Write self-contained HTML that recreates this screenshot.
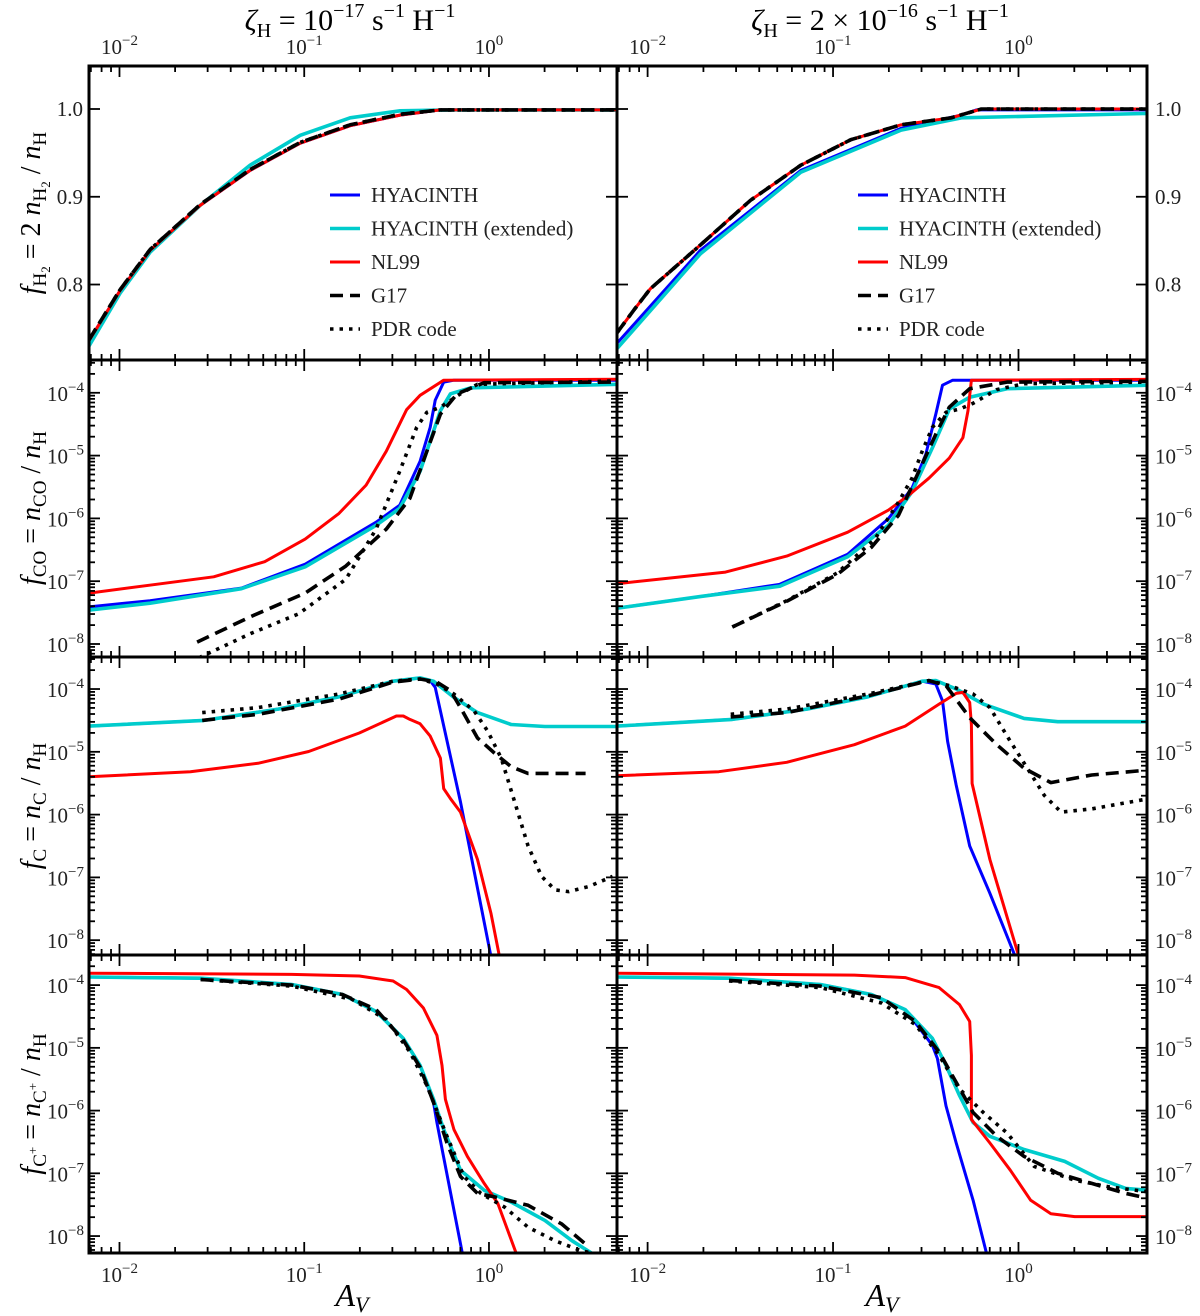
<!DOCTYPE html>
<html><head><meta charset="utf-8">
<style>
html,body{margin:0;padding:0;background:#fff;}
svg{display:block;font-family:"Liberation Serif","DejaVu Serif",serif;}
</style></head>
<body>
<svg id="fig" width="1200" height="1316" viewBox="0 0 1200 1316" xmlns="http://www.w3.org/2000/svg">
<text x="350" y="30" font-size="30" text-anchor="middle"><tspan font-style="italic">ζ</tspan><tspan font-size="20" dy="7">H</tspan><tspan dy="-7"> = 10</tspan><tspan font-size="20" dy="-13">−17</tspan><tspan dy="13"> s</tspan><tspan font-size="20" dy="-13">−1</tspan><tspan dy="13"> H</tspan><tspan font-size="20" dy="-13">−1</tspan></text>
<text x="880" y="30" font-size="30" text-anchor="middle"><tspan font-style="italic">ζ</tspan><tspan font-size="20" dy="7">H</tspan><tspan dy="-7"> = 2 × 10</tspan><tspan font-size="20" dy="-13">−16</tspan><tspan dy="13"> s</tspan><tspan font-size="20" dy="-13">−1</tspan><tspan dy="13"> H</tspan><tspan font-size="20" dy="-13">−1</tspan></text>
<text x="352" y="1306" font-size="32" font-style="italic" text-anchor="middle">A<tspan font-size="22" dy="6">V</tspan></text>
<text x="882" y="1306" font-size="32" font-style="italic" text-anchor="middle">A<tspan font-size="22" dy="6">V</tspan></text>
<text transform="translate(40,213) rotate(-90)" font-size="28" text-anchor="middle"><tspan font-style="italic">f</tspan><tspan font-size="19" dy="6">H</tspan><tspan font-size="13" dy="4">2</tspan><tspan dy="-10"> = 2 </tspan><tspan font-style="italic">n</tspan><tspan font-size="19" dy="6">H</tspan><tspan font-size="13" dy="4">2</tspan><tspan dy="-10"> / </tspan><tspan font-style="italic">n</tspan><tspan font-size="19" dy="6">H</tspan></text>
<text transform="translate(40,508) rotate(-90)" font-size="28" text-anchor="middle"><tspan font-style="italic">f</tspan><tspan font-size="19" dy="6">CO</tspan><tspan dy="-6"> = </tspan><tspan font-style="italic">n</tspan><tspan font-size="19" dy="6">CO</tspan><tspan dy="-6"> / </tspan><tspan font-style="italic">n</tspan><tspan font-size="19" dy="6">H</tspan></text>
<text transform="translate(40,806) rotate(-90)" font-size="28" text-anchor="middle"><tspan font-style="italic">f</tspan><tspan font-size="19" dy="6">C</tspan><tspan dy="-6"> = </tspan><tspan font-style="italic">n</tspan><tspan font-size="19" dy="6">C</tspan><tspan dy="-6"> / </tspan><tspan font-style="italic">n</tspan><tspan font-size="19" dy="6">H</tspan></text>
<text transform="translate(40,1104) rotate(-90)" font-size="28" text-anchor="middle"><tspan font-style="italic">f</tspan><tspan font-size="19" dy="6">C</tspan><tspan font-size="13" dy="-9">+</tspan><tspan dy="3"> = </tspan><tspan font-style="italic">n</tspan><tspan font-size="19" dy="6">C</tspan><tspan font-size="13" dy="-9">+</tspan><tspan dy="3"> / </tspan><tspan font-style="italic">n</tspan><tspan font-size="19" dy="6">H</tspan></text>
</svg>
<script>
// ---------- data (log10 A_V, and log10 f except row 1 which is linear f) ----------
const r1L_hy_x=[-2.165,-1.997,-1.834,-1.564,-1.293,-1.022,-0.751,-0.481,-0.264,0.70];
const r1L_hy_y=[0.736,0.793,0.839,0.890,0.930,0.961,0.981,0.993,0.999,0.999];
const r1L_ext_x=[-2.165,-1.997,-1.834,-1.564,-1.293,-1.022,-0.751,-0.481,-0.21,0.70];
const r1L_ext_y=[0.730,0.790,0.837,0.890,0.936,0.970,0.990,0.998,0.999,0.999];
const r1L_nl_x=[-2.165,-1.997,-1.834,-1.564,-1.293,-1.022,-0.751,-0.481,-0.264,0.70];
const r1L_nl_y=[0.736,0.793,0.839,0.890,0.930,0.961,0.981,0.993,0.999,0.999];
const r1L_g17_x=[-2.165,-1.997,-1.834,-1.564,-1.293,-1.022,-0.751,-0.481,-0.264,0.70];
const r1L_g17_y=[0.737,0.794,0.840,0.891,0.931,0.962,0.982,0.994,0.999,0.999];
const r1L_pdr_x=[-2.165,-1.997,-1.834,-1.564,-1.293,-1.022,-0.751,-0.481,-0.264,0.70];
const r1L_pdr_y=[0.737,0.794,0.840,0.891,0.931,0.962,0.982,0.994,0.999,0.999];

const r1R_hy_x=[-2.165,-1.715,-1.174,-0.633,-0.308,-0.227,0.70];
const r1R_hy_y=[0.733,0.839,0.930,0.978,0.993,0.999,0.999];
const r1R_ext_x=[-2.165,-1.715,-1.174,-0.633,-0.308,0.70];
const r1R_ext_y=[0.727,0.835,0.928,0.976,0.99,0.995];
const r1R_nl_x=[-2.165,-2.07,-1.986,-1.715,-1.445,-1.174,-0.904,-0.633,-0.363,-0.20,0.70];
const r1R_nl_y=[0.745,0.772,0.795,0.845,0.896,0.936,0.965,0.982,0.990,1.0,1.0];
const r1R_g17_x=[-2.165,-2.07,-1.986,-1.715,-1.445,-1.174,-0.904,-0.633,-0.363,-0.20,0.70];
const r1R_g17_y=[0.745,0.772,0.795,0.845,0.896,0.936,0.965,0.982,0.990,1.0,1.0];
const r1R_pdr_x=[-2.165,-2.07,-1.986,-1.715,-1.445,-1.174,-0.904,-0.633,-0.363,-0.20,0.70];
const r1R_pdr_y=[0.745,0.772,0.795,0.845,0.896,0.936,0.965,0.982,0.990,1.0,1.0];

const r2L_hy_x=[-2.165,-1.835,-1.34,-0.995,-0.611,-0.483,-0.373,-0.318,-0.291,-0.245,-0.19,0.702];
const r2L_hy_y=[-7.41,-7.31,-7.11,-6.73,-6.06,-5.79,-5.09,-4.55,-4.12,-3.83,-3.80,-3.80];
const r2L_ext_x=[-2.165,-1.835,-1.34,-0.995,-0.611,-0.483,-0.373,-0.318,-0.263,-0.208,-0.099,0.702];
const r2L_ext_y=[-7.46,-7.35,-7.12,-6.77,-6.11,-5.84,-5.25,-4.77,-4.285,-4.016,-3.92,-3.865];
const r2L_nl_x=[-2.165,-1.80,-1.49,-1.214,-0.995,-0.812,-0.665,-0.556,-0.446,-0.373,-0.245,0.702];
const r2L_nl_y=[-7.19,-7.05,-6.93,-6.69,-6.33,-5.92,-5.47,-4.93,-4.27,-4.04,-3.80,-3.785];
const r2L_g17_x=[-1.58,-1.287,-0.995,-0.775,-0.556,-0.428,-0.336,-0.263,-0.172,-0.026,0.702];
const r2L_g17_y=[-7.97,-7.56,-7.19,-6.76,-6.17,-5.68,-4.93,-4.34,-4.016,-3.84,-3.83];
const r2L_pdr_x=[-1.57,-1.287,-1.031,-0.775,-0.611,-0.483,-0.391,-0.336,-0.263,-0.154,-0.062,0.702];
const r2L_pdr_y=[-8.22,-7.83,-7.52,-6.97,-6.17,-5.25,-4.55,-4.31,-4.23,-4.016,-3.865,-3.81];

const r2R_hy_x=[-2.165,-1.707,-1.287,-0.921,-0.702,-0.574,-0.50,-0.446,-0.41,-0.355,0.702];
const r2R_hy_y=[-7.43,-7.24,-7.05,-6.57,-6.005,-5.52,-4.98,-4.34,-3.88,-3.80,-3.80];
const r2R_ext_x=[-2.165,-1.707,-1.287,-0.921,-0.702,-0.574,-0.464,-0.373,-0.263,-0.062,0.702];
const r2R_ext_y=[-7.43,-7.24,-7.08,-6.61,-6.11,-5.575,-4.876,-4.26,-4.07,-3.935,-3.88];
const r2R_nl_x=[-2.165,-1.58,-1.25,-0.921,-0.702,-0.592,-0.483,-0.373,-0.30,-0.272,-0.254,0.702];
const r2R_nl_y=[-7.04,-6.855,-6.60,-6.22,-5.87,-5.63,-5.36,-5.04,-4.715,-4.285,-3.80,-3.785];
const r2R_g17_x=[-1.543,-1.25,-0.976,-0.793,-0.647,-0.537,-0.446,-0.373,-0.263,-0.062,0.702];
const r2R_g17_y=[-7.73,-7.32,-6.89,-6.46,-5.95,-5.25,-4.66,-4.23,-3.935,-3.83,-3.817];
const r2R_pdr_x=[-1.543,-1.25,-0.976,-0.775,-0.647,-0.574,-0.519,-0.464,-0.391,-0.318,-0.245,-0.117,0.03,0.702];
const r2R_pdr_y=[-7.73,-7.31,-6.866,-6.33,-5.74,-5.36,-4.93,-4.55,-4.31,-4.26,-4.167,-3.95,-3.855,-3.83];

const r3L_hy_x=[-2.165,-1.543,-1.141,-0.812,-0.52,-0.373,-0.318,-0.291,-0.154,0.011];
const r3L_hy_y=[-4.59,-4.50,-4.32,-4.124,-3.876,-3.823,-3.866,-3.973,-5.80,-8.263];
const r3L_ext_x=[-2.165,-1.543,-1.141,-0.812,-0.52,-0.373,-0.30,-0.19,-0.062,0.12,0.303,0.702];
const r3L_ext_y=[-4.59,-4.50,-4.32,-4.124,-3.876,-3.823,-3.876,-4.134,-4.376,-4.565,-4.597,-4.597];
const r3L_nl_x=[-2.165,-1.616,-1.25,-0.976,-0.702,-0.501,-0.464,-0.428,-0.373,-0.318,-0.263,-0.245,-0.208,-0.154,-0.062,0.011,0.057];
const r3L_nl_y=[-5.398,-5.317,-5.183,-4.995,-4.70,-4.43,-4.43,-4.484,-4.554,-4.75,-5.10,-5.586,-5.747,-5.96,-6.715,-7.575,-8.263];
const r3L_g17_x=[-1.552,-1.25,-0.812,-0.52,-0.373,-0.282,-0.208,-0.154,-0.062,0.03,0.12,0.212,0.523];
const r3L_g17_y=[-4.50,-4.403,-4.16,-3.89,-3.84,-3.89,-4.027,-4.296,-4.78,-5.02,-5.237,-5.344,-5.344];
const r3L_pdr_x=[-1.552,-1.25,-0.812,-0.52,-0.373,-0.282,-0.19,-0.08,-0.007,0.066,0.139,0.212,0.285,0.358,0.431,0.541,0.669];
const r3L_pdr_y=[-4.376,-4.296,-4.08,-3.876,-3.84,-3.92,-4.08,-4.35,-4.672,-5.10,-5.80,-6.5,-6.984,-7.199,-7.226,-7.145,-6.984];

const r3R_hy_x=[-2.165,-1.543,-1.141,-0.812,-0.52,-0.446,-0.41,-0.382,-0.336,-0.263,-0.154,-0.017];
const r3R_hy_y=[-4.59,-4.484,-4.32,-4.124,-3.876,-3.92,-4.188,-4.833,-5.532,-6.5,-7.253,-8.263];
const r3R_ext_x=[-2.165,-1.543,-1.141,-0.812,-0.52,-0.446,-0.336,-0.19,0.03,0.212,0.702];
const r3R_ext_y=[-4.59,-4.484,-4.32,-4.124,-3.876,-3.866,-4.0,-4.24,-4.468,-4.52,-4.52];
const r3R_nl_x=[-2.165,-1.616,-1.25,-0.885,-0.611,-0.428,-0.336,-0.30,-0.263,-0.254,-0.25,-0.154,0.002];
const r3R_nl_y=[-5.38,-5.317,-5.167,-4.887,-4.59,-4.24,-4.07,-4.054,-4.215,-4.565,-5.505,-6.715,-8.263];
const r3R_g17_x=[-1.552,-1.25,-0.812,-0.483,-0.391,-0.263,-0.117,0.03,0.175,0.395,0.702];
const r3R_g17_y=[-4.446,-4.376,-4.108,-3.866,-3.946,-4.457,-4.887,-5.263,-5.49,-5.37,-5.29];
const r3R_pdr_x=[-1.552,-1.25,-0.812,-0.483,-0.373,-0.245,-0.154,-0.044,0.048,0.139,0.23,0.395,0.702];
const r3R_pdr_y=[-4.403,-4.32,-4.08,-3.866,-3.946,-4.08,-4.296,-4.833,-5.263,-5.694,-5.96,-5.909,-5.747];

const r4L_hy_x=[-2.165,-1.561,-1.068,-0.793,-0.611,-0.464,-0.373,-0.30,-0.282,-0.144];
const r4L_hy_y=[-3.87,-3.89,-3.99,-4.15,-4.42,-4.85,-5.28,-5.87,-6.19,-8.28];
const r4L_ext_x=[-2.165,-1.561,-1.068,-0.793,-0.611,-0.464,-0.373,-0.30,-0.245,-0.154,-0.026,0.12,0.303,0.45,0.56];
const r4L_ext_y=[-3.87,-3.89,-3.99,-4.15,-4.42,-4.85,-5.28,-5.82,-6.30,-6.95,-7.27,-7.457,-7.75,-8.075,-8.28];
const r4L_nl_x=[-2.165,-1.068,-0.702,-0.519,-0.446,-0.355,-0.282,-0.254,-0.236,-0.19,-0.117,-0.026,0.048,0.148];
const r4L_nl_y=[-3.81,-3.83,-3.855,-3.935,-4.07,-4.365,-4.80,-5.28,-5.82,-6.30,-6.73,-7.16,-7.48,-8.28];
const r4L_g17_x=[-1.561,-1.068,-0.793,-0.611,-0.464,-0.373,-0.30,-0.227,-0.154,-0.062,0.03,0.212,0.395,0.523];
const r4L_g17_y=[-3.91,-4.0,-4.15,-4.39,-4.876,-5.31,-5.87,-6.516,-7.05,-7.32,-7.376,-7.51,-7.81,-8.13];
const r4L_pdr_x=[-1.561,-1.068,-0.739,-0.556,-0.428,-0.336,-0.227,-0.135,-0.044,0.085,0.212,0.358,0.505,0.578];
const r4L_pdr_y=[-3.91,-4.016,-4.23,-4.55,-5.065,-5.60,-6.41,-7.05,-7.32,-7.54,-7.86,-8.075,-8.24,-8.28];

const r4R_hy_x=[-2.165,-1.561,-1.068,-0.793,-0.611,-0.464,-0.437,-0.391,-0.336,-0.245,-0.172];
const r4R_hy_y=[-3.87,-3.89,-3.99,-4.15,-4.39,-4.96,-5.17,-5.925,-6.516,-7.43,-8.28];
const r4R_ext_x=[-2.165,-1.561,-1.068,-0.793,-0.611,-0.464,-0.391,-0.318,-0.245,-0.154,0.03,0.249,0.431,0.578,0.702];
const r4R_ext_y=[-3.87,-3.89,-3.99,-4.15,-4.39,-4.85,-5.28,-5.76,-6.19,-6.41,-6.62,-6.81,-7.08,-7.24,-7.27];
const r4R_nl_x=[-2.165,-0.885,-0.611,-0.428,-0.318,-0.263,-0.254,-0.254,-0.154,-0.044,0.066,0.175,0.303,0.702];
const r4R_nl_y=[-3.81,-3.84,-3.88,-4.04,-4.31,-4.58,-5.12,-6.14,-6.516,-6.95,-7.43,-7.645,-7.69,-7.69];
const r4R_g17_x=[-1.561,-1.068,-0.739,-0.556,-0.428,-0.336,-0.245,-0.117,0.03,0.212,0.395,0.578,0.702];
const r4R_g17_y=[-3.925,-4.016,-4.20,-4.58,-5.065,-5.55,-6.03,-6.41,-6.73,-7.0,-7.16,-7.32,-7.40];
const r4R_pdr_x=[-1.561,-1.068,-0.739,-0.556,-0.428,-0.318,-0.19,-0.062,0.085,0.303,0.486,0.702];
const r4R_pdr_y=[-3.935,-4.04,-4.285,-4.63,-5.12,-5.656,-6.03,-6.355,-6.89,-7.11,-7.215,-7.296];

const xTickExps=[-2,-1,0];
const xTickLabels=["−2","−1","0"];
const linTicks=[0.8,0.9,1.0];
const linTickLabels=["0.8","0.9","1.0"];
const logTickExps=[-8,-7,-6,-5,-4];
const logTickLabels=["−8","−7","−6","−5","−4"];
const legendLabels=["HYACINTH","HYACINTH (extended)","NL99","G17","PDR code"];

// ---------- layout ----------
const NS="http://www.w3.org/2000/svg";
const svg=document.getElementById('fig');
const XMIN=-2.165,XMAX=0.693;
const cols=[{x0:89,x1:617,side:'left'},{x0:617,x1:1147,side:'right'}];
const rows=[
 {y0:66,y1:360,lo:0.714,hi:1.049,log:false,name:'fh2'},
 {y0:360,y1:657,lo:-8.207,hi:-3.478,log:true,name:'fco'},
 {y0:657,y1:955,lo:-8.236,hi:-3.49,log:true,name:'fc'},
 {y0:955,y1:1253,lo:-8.27,hi:-3.52,log:true,name:'fcplus'}];
const styles={
 hy:{c:'#0000ff',w:3,d:null},
 ext:{c:'#00cccc',w:3.6,d:null},
 nl:{c:'#ff0000',w:3,d:null},
 g17:{c:'#000',w:3.6,d:'13,7'},
 pdr:{c:'#000',w:3.6,d:'3.5,6'}};
const seriesKeys=['hy','ext','nl','g17','pdr'];
const data={
 r1L:{hy:[r1L_hy_x,r1L_hy_y],ext:[r1L_ext_x,r1L_ext_y],nl:[r1L_nl_x,r1L_nl_y],g17:[r1L_g17_x,r1L_g17_y],pdr:[r1L_pdr_x,r1L_pdr_y]},
 r1R:{hy:[r1R_hy_x,r1R_hy_y],ext:[r1R_ext_x,r1R_ext_y],nl:[r1R_nl_x,r1R_nl_y],g17:[r1R_g17_x,r1R_g17_y],pdr:[r1R_pdr_x,r1R_pdr_y]},
 r2L:{hy:[r2L_hy_x,r2L_hy_y],ext:[r2L_ext_x,r2L_ext_y],nl:[r2L_nl_x,r2L_nl_y],g17:[r2L_g17_x,r2L_g17_y],pdr:[r2L_pdr_x,r2L_pdr_y]},
 r2R:{hy:[r2R_hy_x,r2R_hy_y],ext:[r2R_ext_x,r2R_ext_y],nl:[r2R_nl_x,r2R_nl_y],g17:[r2R_g17_x,r2R_g17_y],pdr:[r2R_pdr_x,r2R_pdr_y]},
 r3L:{hy:[r3L_hy_x,r3L_hy_y],ext:[r3L_ext_x,r3L_ext_y],nl:[r3L_nl_x,r3L_nl_y],g17:[r3L_g17_x,r3L_g17_y],pdr:[r3L_pdr_x,r3L_pdr_y]},
 r3R:{hy:[r3R_hy_x,r3R_hy_y],ext:[r3R_ext_x,r3R_ext_y],nl:[r3R_nl_x,r3R_nl_y],g17:[r3R_g17_x,r3R_g17_y],pdr:[r3R_pdr_x,r3R_pdr_y]},
 r4L:{hy:[r4L_hy_x,r4L_hy_y],ext:[r4L_ext_x,r4L_ext_y],nl:[r4L_nl_x,r4L_nl_y],g17:[r4L_g17_x,r4L_g17_y],pdr:[r4L_pdr_x,r4L_pdr_y]},
 r4R:{hy:[r4R_hy_x,r4R_hy_y],ext:[r4R_ext_x,r4R_ext_y],nl:[r4R_nl_x,r4R_nl_y],g17:[r4R_g17_x,r4R_g17_y],pdr:[r4R_pdr_x,r4R_pdr_y]}};

function mk(tag,attrs,parent){const e=document.createElementNS(NS,tag);for(const k in attrs)e.setAttribute(k,attrs[k]);(parent||svg).appendChild(e);return e;}
function xs(col,lx){return col.x0+(lx-XMIN)/(XMAX-XMIN)*(col.x1-col.x0);}
function ys(row,v){return row.y1-(v-row.lo)/(row.hi-row.lo)*(row.y1-row.y0);}
function powLabel(parent,x,y,anchor,exp,name){
  const t=mk('text',{x:x,y:y,'font-size':21,'text-anchor':anchor,fill:'#222'},parent);
  
  
  t.appendChild(document.createTextNode('10'));
  const s=mk('tspan',{'font-size':15,dy:-9},t);
  s.textContent=exp;
  return t;
}

let clipId=0;
rows.forEach((row,ri)=>{
  cols.forEach((col,ci)=>{
    const key='r'+(ri+1)+(ci===0?'L':'R');
    const g=mk('g',{});
    
    
    const cp=mk('clipPath',{id:'cp'+clipId},g);
    mk('rect',{x:col.x0,y:row.y0,width:col.x1-col.x0,height:row.y1-row.y0},cp);
    const lg=mk('g',{'clip-path':'url(#cp'+clipId+')'},g);
    clipId++;
    seriesKeys.forEach(sk=>{
      const [ax,ay]=data[key][sk];
      let d='';
      for(let i=0;i<ax.length;i++){d+=(i?'L':'M')+xs(col,ax[i]).toFixed(1)+','+ys(row,ay[i]).toFixed(1);}
      const st=styles[sk];
      const p=mk('path',{d:d,fill:'none',stroke:st.c,'stroke-width':st.w,'stroke-linejoin':'round'},lg);
      
      
      if(st.d)p.setAttribute('stroke-dasharray',st.d);
    });
    for(let e=-3;e<=0;e++){
      for(let m=1;m<=9;m++){
        const lx=e+Math.log10(m);
        if(lx<XMIN||lx>XMAX)continue;
        const x=xs(col,lx);const L=m===1?11:6;
        mk('line',{x1:x,y1:row.y0,x2:x,y2:row.y0+L,stroke:'#000','stroke-width':1.8},g);
        mk('line',{x1:x,y1:row.y1,x2:x,y2:row.y1-L,stroke:'#000','stroke-width':1.8},g);
      }
    }
    if(row.log){
      for(let e=-9;e<=-3;e++){
        for(let m=1;m<=9;m++){
          const ly=e+Math.log10(m);
          if(ly<row.lo||ly>row.hi)continue;
          const y=ys(row,ly);const L=m===1?11:6;
          mk('line',{x1:col.x0,y1:y,x2:col.x0+L,y2:y,stroke:'#000','stroke-width':1.8},g);
          mk('line',{x1:col.x1,y1:y,x2:col.x1-L,y2:y,stroke:'#000','stroke-width':1.8},g);
        }
      }
      logTickExps.forEach((ex,i)=>{
        const y=ys(row,ex)+8;
        if(ci===0)powLabel(g,84,y,'end',logTickLabels[i],'y-tick-label');
        else powLabel(g,1155,y,'start',logTickLabels[i],'y-tick-label');
      });
    } else {
      linTicks.forEach((v,i)=>{
        const y=ys(row,v);
        mk('line',{x1:col.x0,y1:y,x2:col.x0+11,y2:y,stroke:'#000','stroke-width':1.8},g);
        mk('line',{x1:col.x1,y1:y,x2:col.x1-11,y2:y,stroke:'#000','stroke-width':1.8},g);
        const t=mk('text',{x:ci===0?83:1155,y:y+7,'font-size':21,'text-anchor':ci===0?'end':'start',fill:'#222'},g);
        
        
        t.textContent=linTickLabels[i];
      });
    }
    if(ri===0){
      xTickExps.forEach((ex,i)=>{powLabel(g,xs(col,ex),54,'middle',xTickLabels[i],'top-x-tick-label');});
    }
    if(ri===3){
      xTickExps.forEach((ex,i)=>{powLabel(g,xs(col,ex),1282,'middle',xTickLabels[i],'bottom-x-tick-label');});
    }
    const fr=mk('rect',{x:col.x0,y:row.y0,width:col.x1-col.x0,height:row.y1-row.y0,fill:'none',stroke:'#000','stroke-width':3},g);
    
    
    if(ri===0){
      const lgd=mk('g',{},g);
      
      
      const lx0=col.x0+241;
      seriesKeys.forEach((sk,i)=>{
        const y=195+i*33.5;
        const st=styles[sk];
        const ln=mk('line',{x1:lx0,y1:y,x2:lx0+30,y2:y,stroke:st.c,'stroke-width':st.w},lgd);
        
        
        if(st.d)ln.setAttribute('stroke-dasharray',st.d);
        const t=mk('text',{x:lx0+41,y:y+7,'font-size':21,fill:'#222'},lgd);
        
        
        t.textContent=legendLabels[i];
      });
    }
  });
});
</script>
</body></html>
